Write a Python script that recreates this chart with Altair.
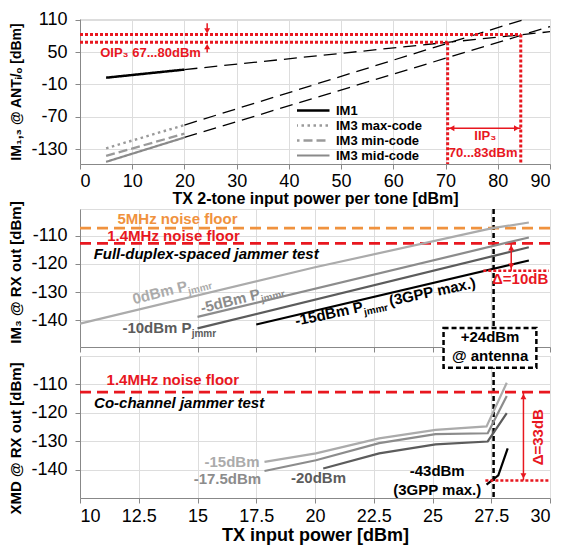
import altair as alt
import pandas as pd

FONT = "Liberation Sans"
RED = "#e8171f"
ORANGE = "#f0923e"
GRID = "#9a9a9a"
W = 470

# ---------------- Panel 1 data ----------------
p1_series = ["IM1", "IM3 max-code", "IM3 min-code", "IM3 mid-code"]
p1_colors = ["#000000", "#9a9a9a", "#9a9a9a", "#8a8a8a"]
p1_dash = [[1, 0], [2.5, 3.5], [9, 4], [1, 0]]
p1_width = [2.5, 2.2, 3.2, 2.2]
p1_x = [5, 20]
p1_im1 = [2.5, 17.5]
p1_im3_max = [-128, -85]
p1_im3_min = [-142, -101]
p1_im3_mid = [-153, -108]

p1_ext_names = ["IM1", "IM3 max-code", "IM3 mid-code"]
p1_ext_x0 = [20, 20, 20]
p1_ext_y0 = [17.5, -85, -108]
p1_ext_x1 = [90, 85, 90]
p1_ext_y1 = [87.5, 110, 97]

oip3_y = [68, 82.5]
iip3_x = [70.4, 84.4]
p1_ybottom = -157

# ---------------- Panel 2 data ----------------
p2_names = ["0dBm", "-5dBm", "-10dBm", "-15dBm"]
p2_colors = ["#ababab", "#8c8c8c", "#5c5c5c", "#000000"]
p2_widths = [2.2, 2.2, 2.2, 2.6]
p2_x = [[10, 20, 27.5, 29.1], [15, 29.1], [15, 29.1], [17.5, 29.1]]
p2_y = [[-141.2, -121.2, -107.4, -105.3], [-138.8, -110.6], [-142.9, -114.1], [-141.5, -118.8]]
floor_5mhz = -107.3
floor_14mhz = -112.7
p2_delta_low = -122.4

# ---------------- Panel 3 data ----------------
p3_names = ["-15dBm", "-17.5dBm", "-20dBm", "-43dBm"]
p3_colors = ["#ababab", "#8c8c8c", "#5c5c5c", "#000000"]
p3_widths = [2.2, 2.2, 2.2, 2.6]
p3_x = [[17.85, 20.04, 22.73, 25.13, 27.3, 28.16],
        [17.85, 20.04, 22.73, 25.13, 27.35, 28.16],
        [20.35, 22.73, 25.13, 27.35, 28.16],
        [27.3, 27.8, 28.2]]
p3_y = [[-137.3, -134.3, -129.0, -126.0, -124.8, -109.4],
        [-140.5, -136.7, -130.7, -127.5, -127.2, -114.1],
        [-139.6, -134.3, -131.1, -130.1, -120.1],
        [-145.3, -142.0, -132.5]]
p3_delta_low = -143.8
antenna_x = 27.6

x_ticks_bottom = [10, 12.5, 15, 17.5, 20, 22.5, 25, 27.5, 30]
y_ticks_rx = [-110, -120, -130, -140]

LBL = "'' + datum.value"

# scales
xs1 = alt.Scale(domain=[0, 90], nice=False, zero=False)
ys1 = alt.Scale(domain=[p1_ybottom, 111], nice=False, zero=False)
xs2 = alt.Scale(domain=[10, 30], nice=False, zero=False)
ys2 = alt.Scale(domain=[-149.5, -100.5], nice=False, zero=False)
ys3 = alt.Scale(domain=[-150, -100], nice=False, zero=False)

ax_x1 = alt.Axis(values=list(range(0, 91, 10)), title="TX 2-tone input power per tone [dBm]",
                 labelExpr=LBL, labelFontSize=18, labelPadding=3, titleFontSize=16, titlePadding=0)
ax_y1 = alt.Axis(values=[110, 50, -10, -70, -130], title="IM₁,₃ @ ANTᵢ/ₒ [dBm]", labelExpr=LBL,
                 labelFontSize=18, labelPadding=8, titleFontSize=14, titlePadding=7)
ax_x2 = alt.Axis(values=x_ticks_bottom, labels=False, title=None)
ax_y2 = alt.Axis(values=y_ticks_rx, title="IM₃ @ RX out [dBm]", labelExpr=LBL,
                 labelFontSize=18, labelPadding=8, titleFontSize=15, titlePadding=7, titleY=63)
ax_x3 = alt.Axis(values=x_ticks_bottom, title="TX input power [dBm]", labelExpr=LBL,
                 labelFontSize=18, labelPadding=4, titleFontSize=18, titlePadding=1)
ax_y3 = alt.Axis(values=y_ticks_rx, title="XMD @ RX out [dBm]", labelExpr=LBL,
                 labelFontSize=18, labelPadding=8, titleFontSize=15, titlePadding=7, titleY=82)


def X(sc, ax, f="x"):
    return alt.X(f"{f}:Q", scale=sc, axis=ax)


def Y(sc, ax, f="y"):
    return alt.Y(f"{f}:Q", scale=sc, axis=ax)


def texts(xs, ys, ts, sx, sy, ax, ay, color="black", size=15, align="center", angle=0,
          italic=False, dx=0, dy=0, baseline="alphabetic"):
    df = pd.DataFrame({"x": xs, "y": ys, "t": ts})
    kw = dict(font=FONT, fontSize=size, color=color, align=align, baseline=baseline,
              fontWeight="bold", dx=dx, dy=dy)
    if angle:
        kw["angle"] = angle
    if italic:
        kw["fontStyle"] = "italic"
    return alt.Chart(df).mark_text(**kw).encode(x=X(sx, ax), y=Y(sy, ay), text="t:N")


# ---------------- Panel 1 ----------------
rows = []
for name, ys in zip(p1_series, [p1_im1, p1_im3_max, p1_im3_min, p1_im3_mid]):
    for xv, yv in zip(p1_x, ys):
        rows.append({"s1": name, "x": xv, "y": yv})
df1 = pd.DataFrame(rows)

leg = alt.Legend(title=None, orient="none", legendX=217, legendY=84, symbolType="M-5.2,0L5.2,0",
                 symbolSize=100, labelOffset=26, labelFont=FONT, labelFontSize=13,
                 labelFontWeight="bold", labelColor="black", rowPadding=0, clipHeight=15, padding=0)
lines1 = alt.Chart(df1).mark_line(strokeCap="butt").encode(
    x=X(xs1, ax_x1), y=Y(ys1, ax_y1),
    color=alt.Color("s1:N", scale=alt.Scale(domain=p1_series, range=p1_colors), legend=leg),
    strokeDash=alt.StrokeDash("s1:N", scale=alt.Scale(domain=p1_series, range=p1_dash), legend=leg),
    strokeWidth=alt.StrokeWidth("s1:N", scale=alt.Scale(domain=p1_series, range=p1_width), legend=leg),
    detail="s1:N",
)

erows = []
for n, a, b, c, d in zip(p1_ext_names, p1_ext_x0, p1_ext_y0, p1_ext_x1, p1_ext_y1):
    erows += [{"n": n, "x": a, "y": b}, {"n": n, "x": c, "y": d}]
ext1 = alt.Chart(pd.DataFrame(erows)).mark_line(color="black", strokeWidth=1.3, strokeDash=[13, 7]).encode(
    x=X(xs1, ax_x1), y=Y(ys1, ax_y1), detail="n:N")

hred = alt.Chart(pd.DataFrame({"x": [0, 0], "x2": iip3_x, "y": oip3_y})).mark_rule(
    color=RED, strokeWidth=3, strokeDash=[3, 2]).encode(x=X(xs1, ax_x1), x2="x2:Q", y=Y(ys1, ax_y1))
vred = alt.Chart(pd.DataFrame({"x": iip3_x, "y": oip3_y, "y2": [p1_ybottom, p1_ybottom]})).mark_rule(
    color=RED, strokeWidth=3, strokeDash=[3, 2]).encode(x=X(xs1, ax_x1), y=Y(ys1, ax_y1), y2="y2:Q")

arr_x = 24.35
arr1 = alt.Chart(pd.DataFrame({"x": [arr_x, arr_x, 70.4], "x2": [arr_x, arr_x, 84.4],
                               "y": [103, 49, -91], "y2": [89, 60, -91]})).mark_rule(
    color=RED, strokeWidth=1.5).encode(x=X(xs1, ax_x1), x2="x2:Q", y=Y(ys1, ax_y1), y2="y2:Q")
tri1 = alt.Chart(pd.DataFrame({"x": [arr_x, arr_x, 71.2, 83.6], "y": [89, 60, -91, -91],
                               "sh": ["triangle-down", "triangle-up", "triangle-left", "triangle-right"]})
                 ).mark_point(filled=True, color=RED, size=35, opacity=1).encode(
    x=X(xs1, ax_x1), y=Y(ys1, ax_y1), shape=alt.Shape("sh:N", scale=None))

t1 = texts([13.5], [41.2], ["OIP₃ 67...80dBm"], xs1, ys1, ax_x1, ax_y1, color=RED, size=13)
t1b = texts([77.6, 77.2], [-113, -143.6], ["IIP₃", "70...83dBm"], xs1, ys1, ax_x1, ax_y1, color=RED, size=13)

panel1 = alt.layer(ext1, lines1, hred, vred, arr1, tri1, t1, t1b).properties(width=W, height=145)

# ---------------- spacer ----------------
spacer = alt.Chart(pd.DataFrame({"sx": [0]})).mark_point(opacity=0).encode(
    x=alt.X("sx:Q", axis=None), y=alt.Y("sx:Q", axis=None)
).properties(width=W, height=27, view={"stroke": "transparent"})


def series_df(field, names, xs_list, ys_list):
    r = []
    for n, xs, ys in zip(names, xs_list, ys_list):
        for xv, yv in zip(xs, ys):
            r.append({field: n, "x": xv, "y": yv})
    return pd.DataFrame(r)


# ---------------- Panel 2 ----------------
df2 = series_df("s2", p2_names, p2_x, p2_y)
lines2 = alt.Chart(df2).mark_line(strokeCap="butt").encode(
    x=X(xs2, ax_x2), y=Y(ys2, ax_y2),
    color=alt.Color("s2:N", scale=alt.Scale(domain=p2_names, range=p2_colors), legend=None),
    strokeWidth=alt.StrokeWidth("s2:N", scale=alt.Scale(domain=p2_names, range=p2_widths), legend=None),
    detail="s2:N")
floors2 = alt.Chart(pd.DataFrame({"y": [floor_5mhz, floor_14mhz], "c": [ORANGE, RED]})).mark_rule(
    strokeWidth=2.8, strokeDash=[11, 6]).encode(y=Y(ys2, ax_y2), color=alt.Color("c:N", scale=None))
vline2 = alt.Chart(pd.DataFrame({"x": [antenna_x]})).mark_rule(
    color="black", strokeWidth=2.5, strokeDash=[5, 3]).encode(x=X(xs2, ax_x2))
dl2 = alt.Chart(pd.DataFrame({"x": [27.16], "x2": [29.95], "y": [p2_delta_low]})).mark_rule(
    color=RED, strokeWidth=2.5, strokeDash=[3, 2]).encode(x=X(xs2, ax_x2), x2="x2:Q", y=Y(ys2, ax_y2))
ar2 = alt.Chart(pd.DataFrame({"x": [28.35], "y": [floor_14mhz], "y2": [p2_delta_low]})).mark_rule(
    color=RED, strokeWidth=1.5).encode(x=X(xs2, ax_x2), y=Y(ys2, ax_y2), y2="y2:Q")
tri2 = alt.Chart(pd.DataFrame({"x": [28.35, 28.35], "y": [-114.3, -120.8],
                               "sh": ["triangle-up", "triangle-down"]})).mark_point(
    filled=True, color=RED, size=35, opacity=1).encode(
    x=X(xs2, ax_x2), y=Y(ys2, ax_y2), shape=alt.Shape("sh:N", scale=None))

t2 = [
    texts([14.15], [-105.9], ["5MHz noise floor"], xs2, ys2, ax_x2, ax_y2, color=ORANGE),
    texts([13.98], [-111.8], ["1.4MHz noise floor"], xs2, ys2, ax_x2, ax_y2, color=RED),
    texts([10.58], [-118.2], ["Full-duplex-spaced jammer test"], xs2, ys2, ax_x2, ax_y2,
          align="left", italic=True),
    texts([28.73], [-127.05], ["Δ=10dB"], xs2, ys2, ax_x2, ax_y2, color=RED),
    texts([14.6], [-129.5], ["0dBm P"], xs2, ys2, ax_x2, ax_y2, color=p2_colors[0], align="right", angle=346),
    texts([14.6], [-129.5], ["jmmr"], xs2, ys2, ax_x2, ax_y2, color=p2_colors[0], align="left", angle=346,
          size=10, dy=4),
    texts([17.7], [-132.3], ["-5dBm P"], xs2, ys2, ax_x2, ax_y2, color=p2_colors[1], align="right", angle=346),
    texts([17.7], [-132.3], ["jmmr"], xs2, ys2, ax_x2, ax_y2, color=p2_colors[1], align="left", angle=346,
          size=10, dy=4),
    texts([14.75], [-144.7], ["-10dBm P"], xs2, ys2, ax_x2, ax_y2, color=p2_colors[2], align="right"),
    texts([14.75], [-144.7], ["jmmr"], xs2, ys2, ax_x2, ax_y2, color=p2_colors[2], align="left",
          size=10, dy=4),
    texts([22.08], [-136.9], ["-15dBm P"], xs2, ys2, ax_x2, ax_y2, align="right", angle=348),
    texts([22.08], [-136.9], ["jmmr"], xs2, ys2, ax_x2, ax_y2, align="left", angle=348, size=10, dy=4),
    texts([22.08], [-136.9], ["(3GPP max.)"], xs2, ys2, ax_x2, ax_y2, align="left", angle=348, dx=27),
]
panel2 = alt.layer(vline2, floors2, lines2, dl2, ar2, tri2, *t2).properties(width=W, height=138)

# ---------------- Panel 3 ----------------
df3 = series_df("s3", p3_names, p3_x, p3_y)
lines3 = alt.Chart(df3).mark_line(strokeCap="butt").encode(
    x=X(xs2, ax_x3), y=Y(ys3, ax_y3),
    color=alt.Color("s3:N", scale=alt.Scale(domain=p3_names, range=p3_colors), legend=None),
    strokeWidth=alt.StrokeWidth("s3:N", scale=alt.Scale(domain=p3_names, range=p3_widths), legend=None),
    detail="s3:N")
floor3 = alt.Chart(pd.DataFrame({"y": [floor_14mhz]})).mark_rule(
    color=RED, strokeWidth=2.8, strokeDash=[11, 6]).encode(y=Y(ys3, ax_y3))
vline3 = alt.Chart(pd.DataFrame({"x": [antenna_x]})).mark_rule(
    color="black", strokeWidth=2.5, strokeDash=[5, 3]).encode(x=X(xs2, ax_x3))
dl3 = alt.Chart(pd.DataFrame({"x": [27.25], "x2": [29.95], "y": [p3_delta_low]})).mark_rule(
    color=RED, strokeWidth=2.5, strokeDash=[3, 2]).encode(x=X(xs2, ax_x3), x2="x2:Q", y=Y(ys3, ax_y3))
ar3 = alt.Chart(pd.DataFrame({"x": [28.87], "y": [floor_14mhz], "y2": [p3_delta_low]})).mark_rule(
    color=RED, strokeWidth=1.5).encode(x=X(xs2, ax_x3), y=Y(ys3, ax_y3), y2="y2:Q")
tri3 = alt.Chart(pd.DataFrame({"x": [28.87, 28.87], "y": [-114.3, -142.2],
                               "sh": ["triangle-up", "triangle-down"]})).mark_point(
    filled=True, color=RED, size=35, opacity=1).encode(
    x=X(xs2, ax_x3), y=Y(ys3, ax_y3), shape=alt.Shape("sh:N", scale=None))
box3 = alt.Chart(pd.DataFrame({"x": [25.47], "x2": [29.42], "y": [-90.1], "y2": [-104.1]})).mark_rect(
    fill="white", stroke="black", strokeWidth=2.5, strokeDash=[5, 3]).encode(
    x=X(xs2, ax_x3), x2="x2:Q", y=Y(ys3, ax_y3), y2="y2:Q")

t3 = [
    texts([27.45, 27.45], [-95.2, -101.7], ["+24dBm", "@ antenna"], xs2, ys3, ax_x3, ax_y3),
    texts([13.95], [-110.2], ["1.4MHz noise floor"], xs2, ys3, ax_x3, ax_y3, color=RED),
    texts([10.6], [-118.3], ["Co-channel jammer test"], xs2, ys3, ax_x3, ax_y3, align="left", italic=True),
    texts([17.64], [-139.0], ["-15dBm"], xs2, ys3, ax_x3, ax_y3, color=p3_colors[0], align="right"),
    texts([17.71], [-145.0], ["-17.5dBm"], xs2, ys3, ax_x3, ax_y3, color=p3_colors[1], align="right"),
    texts([20.15], [-144.6], ["-20dBm"], xs2, ys3, ax_x3, ax_y3, color=p3_colors[2]),
    texts([25.2, 25.2], [-142.2, -148.9], ["-43dBm", "(3GPP max.)"], xs2, ys3, ax_x3, ax_y3),
    texts([29.5], [-128.6], ["Δ=33dB"], xs2, ys3, ax_x3, ax_y3, color=RED, angle=270, baseline="middle"),
]
panel3 = alt.layer(vline3, floor3, lines3, dl3, ar3, tri3, box3, *t3).properties(width=W, height=142)

chart = alt.vconcat(panel1, spacer, panel2, panel3, spacing=9, bounds="flush").resolve_scale(
    color="independent", strokeWidth="independent", strokeDash="independent", shape="independent"
).properties(
    padding={"left": 0, "top": 2, "right": 0, "bottom": 0}
).configure_axis(
    labelFont=FONT, titleFont=FONT, labelColor="black", titleColor="black", titleFontWeight="bold",
    ticks=False, domain=False, grid=True, gridColor=GRID, gridDash=[1.5, 2], gridWidth=1,
).configure_view(stroke="black", strokeWidth=3).configure(font=FONT)

chart.save("out.html", embed_options={"renderer": "svg", "actions": False})
